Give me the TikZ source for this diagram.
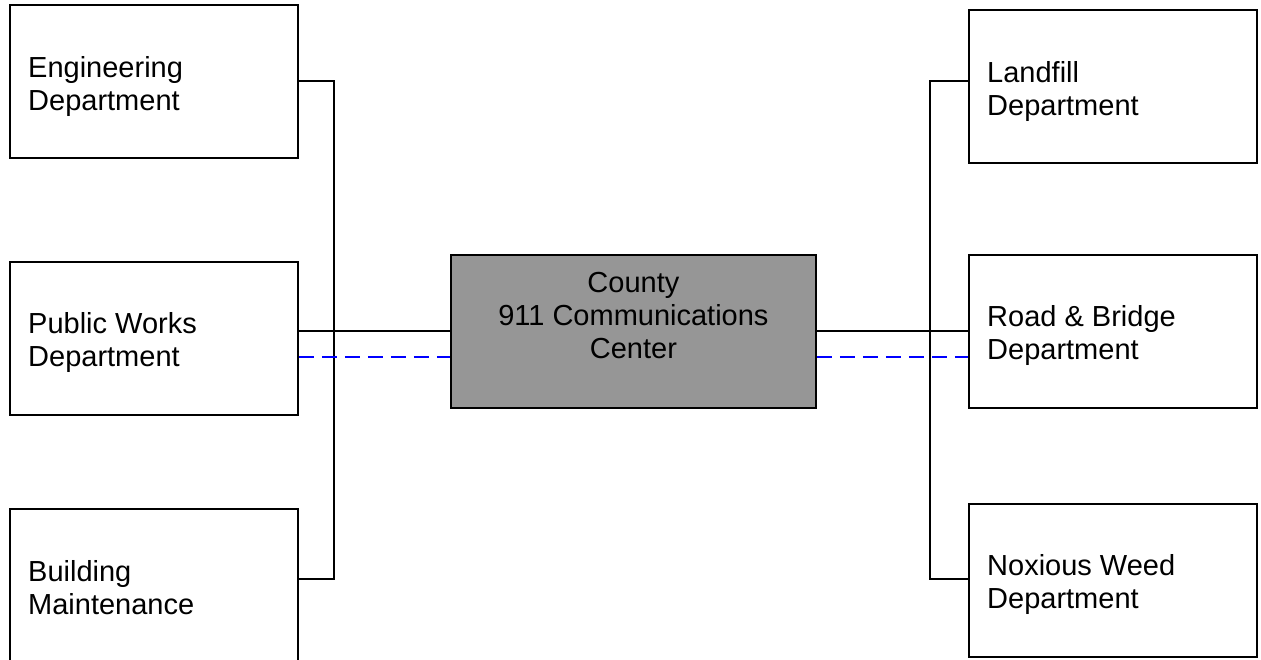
\documentclass[tikz,border=0pt]{standalone}
\usepackage{fontspec}
\setmainfont{Liberation Sans}
\definecolor{hubgray}{RGB}{150,150,150}
\definecolor{radioblue}{RGB}{0,0,255}
\begin{document}
\begin{tikzpicture}[x=1pt,y=-1pt,
  dept/.style={draw, line width=1.8pt, minimum width=288pt, minimum height=153pt,
               inner sep=0pt, anchor=north west},
  hub/.style={dept, fill=hubgray, minimum width=365pt},
  dtext/.style={anchor=north west, inner sep=0pt, align=left,
                font=\fontsize{29}{33}\selectfont},
  htext/.style={anchor=north, inner sep=0pt, align=center,
                font=\fontsize{29}{33}\selectfont},
  link/.style={line width=1.8pt},
  radio/.style={radioblue, line width=1.8pt, dash pattern=on 15pt off 8pt}]
\useasboundingbox (0,0) rectangle (1261,659);

% department boxes
\node[dept] (eng)  at (9,4)    {};
\node[dept] (pw)   at (9,261)  {};
\node[dept] (bld)  at (9,508)  {};
\node[dept] (land) at (968,9)  {};
\node[dept] (road) at (968,254){};
\node[dept] (nox)  at (968,503){};
% central dispatch
\node[hub]  (ctr)  at (450,254){};

% labels
\node[dtext] (engt)  at ([xshift=19pt,yshift=-52pt]eng.north west)  {Engineering\\Department};
\node[dtext] (pwt)   at ([xshift=19pt,yshift=-51pt]pw.north west)   {Public Works\\Department};
\node[dtext] (bldt)  at ([xshift=19pt,yshift=-52pt]bld.north west)  {Building\\Maintenance};
\node[dtext] (landt) at ([xshift=19pt,yshift=-52pt]land.north west) {Landfill\\Department};
\node[dtext] (roadt) at ([xshift=19pt,yshift=-51pt]road.north west) {Road \& Bridge\\Department};
\node[dtext] (noxt)  at ([xshift=19pt,yshift=-51pt]nox.north west)  {Noxious Weed\\Department};
\node[htext] (ctrt)  at ([yshift=-18pt]ctr.north) {County\\911 Communications\\Center};

% bus junctions
\coordinate (lbustop) at (334,81);
\coordinate (lbusbot) at (334,579);
\coordinate (rbustop) at (930,81);
\coordinate (rbusbot) at (930,579);
\coordinate (wire)    at (0,331);
\coordinate (air)     at (0,357);

% wired links
\draw[link] (eng.east |- lbustop) -- (lbustop) -- (lbusbot) -- (bld.east |- lbusbot);
\draw[link] (land.west |- rbustop) -- (rbustop) -- (rbusbot) -- (nox.west |- rbusbot);
\draw[link] (pw.east |- wire) -- (ctr.west |- wire);
\draw[link] (ctr.east |- wire) -- (road.west |- wire);

% radio links
\draw[radio] (pw.east |- air) -- (ctr.west |- air);
\draw[radio] (ctr.east |- air) -- (road.west |- air);
\end{tikzpicture}
\end{document}
